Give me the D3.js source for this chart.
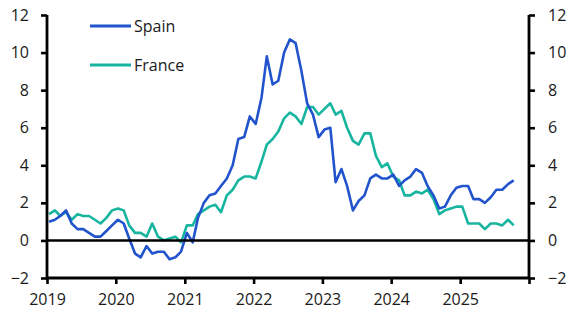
<!DOCTYPE html>
<html><head><meta charset="utf-8">
<script src="https://cdn.jsdelivr.net/npm/d3@7"></script>
<style>body{margin:0;background:#fff}svg{display:block}text{font-family:"Open Sans","Noto Sans",sans-serif;fill:#1a1a1a}</style>
</head><body><svg id="c" width="577" height="331"></svg>
<script>
const startYear = 2019, startMonth = 0;
const spain = [1.0,1.1,1.3,1.6,0.9,0.6,0.6,0.4,0.2,0.2,0.5,0.8,
1.1,0.9,0.1,-0.7,-0.9,-0.3,-0.7,-0.6,-0.6,-1.0,-0.9,-0.6,
0.4,-0.1,1.2,2.0,2.4,2.5,2.9,3.3,4.0,5.4,5.5,6.6,
6.2,7.6,9.8,8.3,8.5,10.0,10.7,10.5,9.0,7.3,6.7,5.5,
5.9,6.0,3.1,3.8,2.9,1.6,2.1,2.4,3.3,3.5,3.3,3.3,
3.5,2.9,3.2,3.4,3.8,3.6,2.9,2.4,1.7,1.8,2.4,2.8,
2.9,2.9,2.2,2.2,2.0,2.3,2.7,2.7,3.0,3.2];
const france = [1.4,1.6,1.3,1.5,1.1,1.4,1.3,1.3,1.1,0.9,1.2,1.6,
1.7,1.6,0.8,0.4,0.4,0.2,0.9,0.2,0.0,0.1,0.2,-0.1,
0.8,0.8,1.4,1.6,1.8,1.9,1.5,2.4,2.7,3.2,3.4,3.4,
3.3,4.2,5.1,5.4,5.8,6.5,6.8,6.6,6.2,7.1,7.1,6.7,
7.0,7.3,6.7,6.9,6.0,5.3,5.1,5.7,5.7,4.5,3.9,4.1,
3.4,3.2,2.4,2.4,2.6,2.5,2.7,2.2,1.4,1.6,1.7,1.8,
1.8,0.9,0.9,0.9,0.6,0.9,0.9,0.8,1.1,0.8];
const yTicks = [-2,0,2,4,6,8,10,12];
const xTickYears = [2019,2020,2021,2022,2023,2024,2025];
const seriesNames = ["Spain","France"];
const colors = ["#2154cc","#17b5a0"];

const svg = d3.select("#c");
const L = 47, R = 529, T = 15, B = 278;
const x = d3.scaleTime().domain([new Date(2019,0,1), new Date(2026,0,1)]).range([L,R]);
const y = d3.scaleLinear().domain([-2,12]).range([B,T]);
const dates = spain.map((_,i)=>new Date(startYear, startMonth+i, 12));

const line = d3.line().x((d,i)=>x(dates[i])).y(d=>y(d));
[france, spain].forEach((s,k)=>{
  svg.append("path").datum(s).attr("d",line).attr("fill","none")
    .attr("stroke", k===0?colors[1]:colors[0]).attr("stroke-width",2.6).attr("stroke-linejoin","round");
});

// zero line
svg.append("line").attr("x1",L).attr("x2",R).attr("y1",y(0)).attr("y2",y(0)).attr("stroke","#000").attr("stroke-width",2.6);

const yl = svg.append("g").attr("transform",`translate(${L},0)`).call(d3.axisLeft(y).tickValues(yTicks).tickSize(6).tickPadding(12).tickFormat(d3.format("d")));
const yr = svg.append("g").attr("transform",`translate(${R},0)`).call(d3.axisRight(y).tickValues(yTicks).tickSize(6).tickPadding(13).tickFormat(d3.format("d")));
const xa = svg.append("g").attr("transform",`translate(0,${B})`).call(d3.axisBottom(x).tickValues(xTickYears.concat([2026]).map(v=>new Date(v,0,1))).tickSize(6).tickPadding(10).tickFormat(d=>d.getFullYear()<2026?d.getFullYear():""));
[yl,yr,xa].forEach(g=>{
  g.select(".domain").attr("stroke","#000").attr("stroke-width",2.8);
  g.selectAll(".tick line").attr("stroke","#000").attr("stroke-width",2.6);
  g.selectAll("text").style("font-size","16px").attr("fill","#1a1a1a");
});
yl.select(".domain").attr("d",`M0,${B}V${T}`).attr("stroke-width",2.8);
yr.select(".domain").attr("d",`M0,${B}V${T}`);
xa.select(".domain").attr("d",`M${L},0H${R}`);

// legend
const lg = svg.append("g");
seriesNames.forEach((n,i)=>{
  const yy = 26 + i*39;
  lg.append("line").attr("x1",90).attr("x2",131).attr("y1",yy).attr("y2",yy).attr("stroke",colors[i]).attr("stroke-width",2.8);
  lg.append("text").attr("x",134).attr("y",yy+6).style("font-size","16px").text(n);
});
</script></body></html>
